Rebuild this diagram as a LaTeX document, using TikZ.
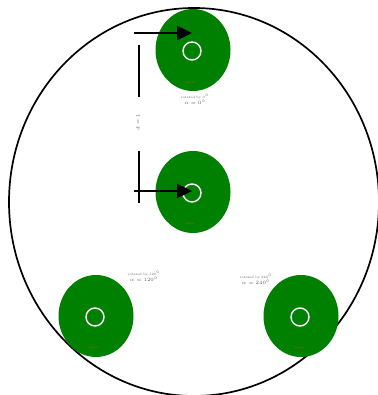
\documentclass[tikz,border=0pt]{standalone}
\usepackage{amsmath}
\usepackage{xcolor}
\usetikzlibrary{shapes.geometric, arrows.meta, positioning}
\definecolor{roda}{RGB}{0,128,0}
\definecolor{marca}{RGB}{190,100,0}

\begin{document}
\begin{tikzpicture}[x=1pt, y=-1pt,
        roda/.style={ellipse, fill=roda, minimum width=75pt, minimum height=82pt, inner sep=0pt},
        eixo/.style={circle, draw=white, line width=1.4pt, minimum size=18pt, inner sep=0pt},
        seta/.style={-{Triangle[length=15pt,width=14pt]}, line width=2.4pt},
        guia/.style={line width=1.6pt},
        rot/.style={font=\fontsize{3.2}{3.8}\selectfont, text=gray!70!black, align=center, inner sep=0pt},
        tag/.style={font=\fontsize{2.8}{3}\selectfont, text=marca, inner sep=0pt}
    ]
    \useasboundingbox (0,0) rectangle (377,395);
    % contorno
    \draw[line width=1.7pt] (194,202) ellipse [x radius=185, y radius=194];
    % rodas
    \node[roda] (topo) at (193,50) {};
    \node[roda] (meio) at (193,192) {};
    \node[roda] (esq) at (96,316) {};
    \node[roda] (dir) at (301,316) {};
    \node[eixo] (ctopo) at (192,51) {};
    \node[eixo] (cmeio) at (192,193) {};
    \node[eixo] (cesq) at (95,317) {};
    \node[eixo] (cdir) at (300,317) {};
    \node[tag] (ttopo) at (190,83) {wheel};
    \node[tag] (tmeio) at (190,224) {wheel};
    \node[tag] (tesq) at (93,348) {wheel};
    \node[tag] (tdir) at (299,348) {wheel};
    % rotulos
    \node[rot] (ltopo) at (195,99) {rotated by 0$^\circ$\\$\alpha = 0^\circ$};
    \node[rot] (lesq) at (144,276) {rotated by 120$^\circ$\\$\alpha = 120^\circ$};
    \node[rot] (ldir) at (256,279) {rotated by 240$^\circ$\\$\alpha = 240^\circ$};
    \node[rot, rotate=90] (dist) at (138,122) {$d = 1$};
    % setas
    \coordinate (a1) at (134,33);
    \coordinate (a2) at (134,191);
    \draw[seta] (a1) -- (a1 -| ctopo);
    \draw[seta] (a2) -- (a2 -| cmeio);
    % guias verticais
    \coordinate (g1) at (139,45);
    \coordinate (g1b) at (139,97);
    \coordinate (g2) at (139,151);
    \coordinate (g2b) at (139,203);
    \draw[guia] (g1) -- (g1b);
    \draw[guia] (g2) -- (g2b);
\end{tikzpicture}
\end{document}
